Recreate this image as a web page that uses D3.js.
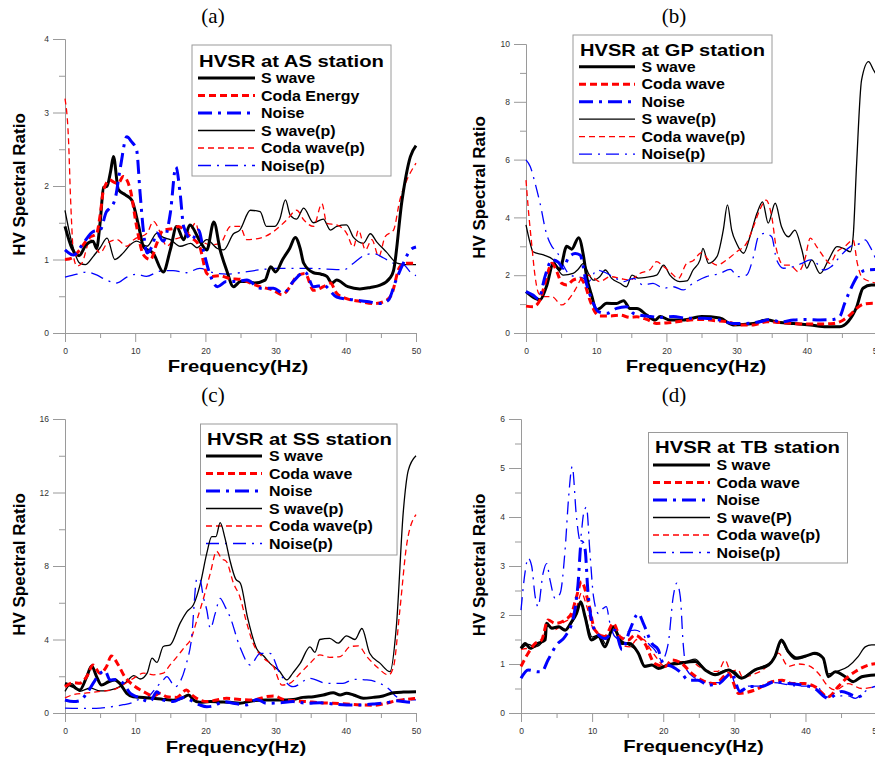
<!DOCTYPE html>
<html><head><meta charset="utf-8">
<script src="https://cdn.jsdelivr.net/npm/d3@7/dist/d3.min.js"></script>
<style>body{margin:0;background:#fff}svg{display:block}</style>
</head><body><svg id="chart" width="875" height="758"></svg>
<script>
// ---------------- DATA ----------------
const FREQ_MAJOR = [0, 10, 20, 30, 40, 50];
const FREQ_MINOR = [5, 15, 25, 35, 45];

const LEG_AS = ["S wave", "Coda Energy", "Noise", "S wave(p)", "Coda wave(p)", "Noise(p)"];
const LEG_GP = ["S wave", "Coda wave", "Noise", "S wave(p)", "Coda wave(p)", "Noise(p)"];
const LEG_SS = ["S wave", "Coda wave", "Noise", "S wave(p)", "Coda wave(p)", "Noise(p)"];
const LEG_TB = ["S wave", "Coda wave", "Noise", "S wave(P)", "Coda wave(p)", "Noise(p)"];

// (a) AS station  [frequency Hz, HV ratio]
const AS_S = [[0,1.45],[1,1.15],[2,1.05],[3,1.2],[4,1.25],[4.5,1.15],[5,1.5],[5.5,1.98],[6,2.0],[6.5,2.2],[6.9,2.4],[7.6,1.95],[8.6,1.88],[9.5,1.81],[10.5,1.45],[11.2,1.17],[12.6,1.08],[14,0.83],[15,1.13],[15.9,1.45],[16.9,1.27],[17.8,1.47],[19.2,1.25],[20.2,1.13],[21.2,1.51],[22.1,1.13],[23,0.86],[24,0.63],[25,0.7],[26,0.7],[27,0.68],[28.5,0.72],[29.3,0.9],[30,0.83],[31,1.0],[32,1.15],[32.8,1.3],[33.5,1.15],[34,0.95],[35.4,0.82],[36.5,0.8],[37.3,0.77],[38,0.68],[38.7,0.72],[40.3,0.63],[42,0.6],[43.5,0.62],[44.9,0.65],[46.3,0.75],[46.8,0.85],[48,1.8],[49.2,2.4],[50,2.55]];
const AS_C = [[0,1.0],[1,1.02],[2,1.12],[3,1.25],[3.5,1.3],[4.5,1.35],[5,1.6],[5.5,1.95],[6.4,2.08],[7,2.05],[7.6,2.04],[8.3,2.13],[9.3,1.95],[10.2,1.45],[11,1.1],[11.6,1.02],[12.2,1.0],[13,1.2],[14,1.4],[15.4,1.42],[16.2,1.45],[17.3,1.36],[18,1.3],[19.2,1.17],[20.2,0.81],[21,0.77],[22,0.78],[23.5,0.74],[25,0.73],[26.4,0.68],[27.8,0.63],[29.7,0.58],[30.9,0.52],[32,0.62],[33,0.77],[34.2,0.81],[35.4,0.58],[36.8,0.63],[37.8,0.68],[38.7,0.54],[40,0.47],[42,0.43],[44,0.4],[45.5,0.43],[46.5,0.52],[47.7,0.9],[48.7,0.95],[50,0.95]];
const AS_N = [[0,1.13],[1.2,1.06],[2.6,1.22],[4,1.38],[5,1.4],[5.9,1.65],[6.4,1.7],[7.1,1.81],[7.9,2.26],[8.8,2.67],[9.5,2.6],[10.2,2.49],[10.7,1.9],[11.2,1.36],[11.7,1.09],[12.4,1.18],[13.1,1.36],[14,1.25],[15,1.63],[15.8,2.26],[16.4,1.9],[16.9,1.45],[18.1,1.27],[19,1.4],[19.8,1.09],[20.5,0.84],[21.7,0.63],[23,0.7],[24.5,0.7],[25.9,0.72],[27.8,0.61],[29.7,0.61],[31.1,0.54],[32.5,0.7],[34.2,0.83],[35.4,0.63],[36.8,0.65],[38.7,0.49],[41.1,0.45],[43,0.43],[44.9,0.4],[46.1,0.45],[47,0.68],[48.2,0.95],[49.2,1.13],[50,1.17]];
const AS_Sp = [[0,1.67],[1,1.22],[2.1,0.95],[2.9,0.93],[4,1.04],[5,1.16],[6,1.29],[7.1,1.0],[8.3,1.09],[9.3,1.2],[10.2,1.25],[11.7,1.18],[13.1,1.36],[14,1.3],[15,1.27],[16.4,1.18],[17.9,1.22],[18.8,1.16],[20.2,1.27],[21.7,1.15],[22.6,1.13],[24,1.35],[24.9,1.4],[26.4,1.67],[27.8,1.65],[28.7,1.45],[29.9,1.45],[30.6,1.55],[31.4,1.81],[32.1,1.6],[33,1.55],[34,1.7],[35.4,1.5],[36.8,1.55],[37.8,1.4],[38.7,1.45],[40.1,1.47],[41.1,1.3],[42.5,1.22],[43.5,1.35],[44.4,1.24],[45.8,1.1],[47.3,0.95],[48.5,0.93],[50,0.93]];
const AS_Cp = [[0,3.19],[0.5,2.63],[0.8,1.81],[1.3,1.0],[1.7,0.91],[2.4,0.95],[3.6,1.27],[5,1.09],[6,1.22],[7.4,1.27],[8.8,1.18],[9.8,1.27],[11.7,1.36],[12.6,1.52],[13.6,1.36],[14.5,1.18],[15.5,1.27],[16.7,1.31],[17.9,1.4],[18.6,1.5],[19.3,1.27],[20.7,1.2],[22.1,1.22],[23.6,1.45],[24.9,1.45],[25.9,1.27],[27.8,1.29],[29.7,1.38],[31.6,1.54],[33,1.67],[34,1.54],[35.4,1.45],[36.6,1.76],[37.3,1.49],[38.7,1.47],[40.1,1.36],[41.1,1.17],[41.8,1.4],[42.8,1.13],[43.7,1.27],[44.7,1.04],[45.6,1.31],[46.8,1.4],[47.7,1.81],[48.7,2.08],[50,2.31]];
const AS_Np = [[0,0.76],[1.7,0.8],[3.1,0.83],[4.5,0.79],[5.5,0.74],[7.4,0.68],[8.8,0.76],[10.2,0.8],[11.6,0.77],[13.5,0.84],[15.4,0.85],[17.3,0.82],[19.2,0.88],[21.1,0.82],[23,0.8],[24.9,0.82],[27.8,0.86],[30.2,0.88],[32.5,0.88],[34.9,0.88],[37.3,0.87],[39.7,0.86],[41.1,0.95],[42.5,1.05],[43.9,1.08],[45.4,1.02],[46.8,0.95],[48.2,0.93],[49.4,0.81],[50,0.78]];

// (b) GP station
const GP_S = [[0,1.43],[1.3,1.2],[2,1.15],[2.9,1.6],[3.9,2.4],[4.8,2.2],[5.8,3.0],[6.5,2.9],[7.5,3.3],[8.2,2.65],[8.6,2.0],[9.4,1.26],[10,0.8],[10.5,0.85],[11.5,1.03],[12.9,1.02],[13.9,1.12],[14.8,0.85],[15.8,0.85],[17.2,0.62],[18.4,0.45],[19.1,0.57],[20.5,0.45],[22.4,0.45],[25,0.57],[27.6,0.52],[29.5,0.28],[32.4,0.33],[34.3,0.45],[36.2,0.36],[38.1,0.33],[40.5,0.28],[42.8,0.22],[44.7,0.22],[45.9,0.4],[47.1,0.9],[48,1.55],[49.2,1.66],[50,1.66]];
const GP_C = [[0,0.93],[1,0.91],[2,1.14],[2.7,1.72],[3.7,2.41],[4.4,2.12],[5.1,1.72],[5.8,1.66],[6.7,1.83],[7.7,1.89],[8.4,1.66],[9.1,1.14],[9.8,0.74],[10.5,0.59],[12,0.59],[13.4,0.62],[14.8,0.54],[15.8,0.56],[17.2,0.47],[18.6,0.33],[20,0.35],[21.5,0.39],[23.4,0.45],[25.3,0.47],[26.7,0.43],[28.6,0.39],[30.5,0.28],[32.4,0.28],[34.3,0.39],[36.2,0.36],[38.1,0.33],[40,0.31],[41.9,0.31],[43.8,0.33],[45.2,0.45],[46.4,0.68],[47.1,0.85],[48.1,1.0],[49.5,1.03],[50,1.03]];
const GP_N = [[0,1.43],[1,1.31],[1.8,1.18],[2.7,1.95],[3.7,2.53],[4.6,2.45],[5.3,2.24],[6,2.58],[7,2.75],[7.7,2.7],[8.6,1.72],[9.4,1.14],[10.3,0.74],[11.5,0.68],[12.9,0.85],[14.3,0.91],[15.3,0.68],[16.2,0.62],[17.7,0.57],[19.1,0.54],[21,0.57],[22.9,0.51],[25.3,0.51],[27.6,0.45],[29.5,0.33],[31.4,0.33],[33.3,0.39],[34.8,0.47],[36.2,0.38],[38.1,0.45],[40,0.47],[41.9,0.45],[43.8,0.47],[44.7,0.57],[45.4,1.03],[46.4,1.6],[47.3,2.0],[48.5,2.18],[50,2.2]];
const GP_Sp = [[0,3.74],[0.6,3.1],[1,2.81],[2.5,2.7],[3.9,2.53],[4.6,2.18],[5.3,2.0],[6.7,2.06],[7.4,2.2],[8.2,2.41],[8.9,2.06],[9.6,1.83],[10.5,1.95],[11.3,2.18],[12.2,1.89],[13.4,1.72],[14.3,1.6],[15.1,2.0],[16,1.9],[17.2,1.93],[18.6,2.0],[19.6,2.35],[20.5,2.0],[21.9,1.78],[22.9,1.8],[23.8,2.18],[24.8,2.53],[25.2,2.93],[26,2.41],[27.2,2.64],[28.1,3.56],[28.7,4.43],[29.3,3.56],[30,3.1],[31,2.76],[31.9,3.33],[32.9,4.14],[33.7,4.54],[34.5,3.8],[35.5,4.49],[36.4,3.68],[37.4,3.33],[38.3,3.56],[39.3,2.87],[40,2.24],[40.7,2.53],[41.9,2.06],[43.1,2.53],[44.3,2.99],[45.2,2.93],[46.2,2.81],[46.6,3.33],[47.1,5.87],[47.8,8.75],[48.8,9.39],[49.5,9.1],[50,8.9]];
const GP_Cp = [[0,5.29],[0.3,4.37],[0.8,3.1],[1.3,1.95],[1.8,1.37],[2.5,1.26],[3.7,1.26],[5.1,0.97],[6,1.14],[7,1.49],[7.9,1.89],[8.6,2.0],[9.4,1.95],[10.5,1.78],[12,1.95],[13.4,1.89],[14.8,1.83],[16.2,2.06],[17.7,2.2],[18.6,2.47],[19.6,2.3],[20.5,2.12],[21.7,1.89],[22.9,2.41],[23.8,2.5],[25,2.78],[26,2.53],[27.2,2.35],[28.6,2.53],[30,2.81],[31.4,3.1],[32.4,3.68],[33.3,4.26],[34.2,4.6],[35,4.03],[35.7,2.87],[36.7,2.35],[37.6,2.35],[38.8,2.12],[39.7,2.53],[40.5,3.28],[41.4,2.99],[42.4,2.64],[43.3,2.41],[44.3,2.81],[45.4,2.99],[46.6,3.22],[47.2,2.41],[47.8,1.95],[49,1.78],[50,1.72]];
const GP_Np = [[0,5.99],[0.6,5.76],[1.3,5.18],[2,4.49],[2.9,3.45],[3.7,2.99],[4.4,2.81],[5.3,2.35],[6.3,2.0],[7.2,1.95],[8.2,1.89],[8.9,1.78],[10.1,2.18],[11,2.12],[12.4,1.95],[13.9,1.78],[15.3,1.89],[16.7,1.66],[18.1,1.72],[19.6,1.55],[21,1.6],[22.4,1.49],[23.8,1.72],[25.7,1.95],[27.6,2.06],[29.1,2.2],[30.2,1.95],[31.4,2.0],[32.4,2.64],[33.1,3.33],[34,3.45],[35,3.33],[35.7,2.53],[36.7,2.24],[38.1,2.3],[39.3,2.41],[40.5,2.53],[41.4,2.41],[42.4,2.18],[43.5,2.3],[44.7,2.64],[46.2,2.99],[47.6,3.1],[48.3,3.22],[49,2.99],[50,2.45]];

// (c) SS station
const SS_S = [[0,1.61],[1.2,1.43],[2.1,1.25],[3.1,1.98],[3.8,2.56],[4.5,1.98],[5.2,1.52],[6.2,1.7],[7.1,1.8],[7.8,1.61],[8.8,1.07],[9.7,0.89],[11.2,0.85],[12.6,0.8],[14,0.74],[15.4,0.7],[16.9,0.85],[17.6,0.98],[18.3,0.71],[19.2,0.58],[20.7,0.62],[22.1,0.6],[23.5,0.58],[24.9,0.53],[26.8,0.67],[28.7,0.71],[30.6,0.71],[32.5,0.74],[33.9,0.85],[35.4,0.89],[36.8,0.98],[38.2,1.1],[39.2,0.98],[40.1,1.07],[41.1,0.98],[42.5,0.8],[43.9,0.85],[45.3,0.93],[46.8,1.1],[48.2,1.14],[50,1.16]];
const SS_C = [[0,1.43],[1.2,1.65],[2.1,1.62],[3.1,1.98],[4,2.61],[5,2.16],[5.9,2.52],[6.6,3.1],[7.6,2.61],[8.5,1.98],[9.7,1.52],[11.2,1.16],[12.6,0.93],[13.5,1.07],[14.5,0.89],[15.9,0.85],[17.3,1.25],[18,1.0],[19.2,0.71],[20.2,0.62],[21.6,0.71],[23,0.8],[24.9,0.74],[26.8,0.71],[28.7,0.89],[29.7,0.93],[31.1,0.74],[32.5,0.67],[34.4,0.62],[36.3,0.56],[38.2,0.53],[40.1,0.49],[42,0.44],[43.9,0.42],[45.8,0.53],[47.2,0.67],[48.7,0.74],[50,0.8]];
const SS_N = [[0,0.71],[1.2,0.62],[2.1,0.67],[3.1,1.07],[4,1.61],[5,2.16],[5.7,2.3],[6.4,1.8],[7.4,1.83],[8.3,1.61],[9.3,1.07],[10.2,0.89],[11.2,0.71],[12.1,0.62],[13.1,1.16],[14,0.71],[15.4,0.62],[16.9,0.85],[17.8,0.71],[19.2,0.44],[20.2,0.34],[21.1,0.38],[22.6,0.62],[24,0.53],[25.9,0.44],[27.3,0.74],[28.7,0.53],[30.6,0.56],[32.5,0.62],[34.4,0.53],[36.3,0.56],[38.2,0.49],[40.1,0.44],[42,0.44],[43.9,0.49],[45.8,0.56],[47.2,0.67],[48.7,0.6],[50,0.56]];
const SS_Sp = [[0,1.18],[0.95,1.6],[2.1,1.18],[3.6,1.36],[5,1.2],[6.4,1.25],[7.9,1.45],[8.8,1.72],[9.8,2.03],[10.7,1.85],[11.7,2.17],[12.4,2.99],[13.1,2.75],[14,3.62],[15,3.71],[16.4,4.89],[17.4,5.53],[18.3,5.89],[19.3,7.07],[20.2,8.7],[20.9,9.6],[21.5,9.6],[22.1,10.36],[22.8,9.5],[23.5,8.3],[24.3,7.3],[25,7.05],[26,5.2],[27.3,3.5],[28.3,3.1],[29.2,2.7],[30.5,2.3],[31.6,1.8],[32.5,2.2],[33.5,2.7],[34.9,3.6],[35.6,3.3],[36.3,4.0],[37.7,4.06],[38.9,3.8],[40.1,4.2],[41.3,4.0],[42.3,4.6],[43.4,3.25],[44.9,2.7],[46.3,2.25],[47.2,4.7],[48.2,11.0],[48.9,13.2],[50,14.0]];
const SS_Cp = [[0,0.82],[1.2,1.0],[3.1,1.09],[5,1.18],[6.9,1.27],[8.3,1.54],[9.8,1.9],[11.2,2.17],[12.6,2.08],[14,2.17],[15,2.63],[16,3.08],[17.1,3.62],[17.9,3.99],[18.8,5.07],[19.8,6.34],[20.7,7.61],[21.6,8.8],[22.3,8.4],[23,8.24],[24,7.06],[24.9,6.33],[25.9,4.88],[26.8,3.79],[28.3,2.98],[29.7,2.52],[30.9,1.52],[32,1.61],[33.5,2.16],[34.9,2.7],[36.3,3.16],[37.7,3.03],[39.2,3.07],[40.6,3.61],[41.8,3.65],[43,3.07],[44.4,2.52],[46.1,2.07],[46.8,2.52],[47.7,5.6],[48.7,9.23],[50,10.8]];
const SS_Np = [[0,0.27],[2.6,0.25],[5,0.27],[6.4,0.33],[8.3,0.45],[9.5,0.55],[10.2,0.7],[11.6,0.8],[13.1,1.43],[14,1.8],[14.5,1.98],[15.7,1.43],[16.4,1.7],[17.3,2.7],[18,3.97],[18.8,7.33],[19.2,7.3],[19.7,6.33],[20.2,5.6],[20.7,4.6],[21.4,5.42],[22.1,6.24],[22.8,5.79],[23.5,5.24],[24.9,3.61],[26.4,2.61],[27.8,3.25],[29.2,3.25],[30.6,2.16],[32.5,1.43],[34.9,1.89],[37.3,1.61],[39.6,1.61],[41.1,1.83],[43,1.8],[44.9,1.61],[46.3,1.25],[47.2,0.89],[48.7,0.74],[50,0.71]];

// (d) TB station
const TB_S = [[0,1.32],[0.6,1.42],[1.3,1.32],[2.4,1.42],[3.4,1.49],[3.6,1.83],[4.3,1.73],[5.3,1.76],[6.2,1.69],[7.1,1.86],[7.8,2.03],[8.4,2.27],[9,1.97],[9.9,1.49],[10.9,1.56],[11.8,1.35],[13,1.76],[13.7,1.56],[14.2,1.42],[15.3,1.42],[16.5,1.22],[17.4,0.95],[18.4,0.98],[19.3,0.91],[20.7,0.98],[22.1,1.01],[24.5,1.05],[25.9,0.88],[27.3,0.78],[29.2,0.88],[31,0.71],[32.9,0.88],[34.8,0.98],[35.7,1.15],[36.6,1.49],[37.6,1.25],[38.8,1.12],[40.4,1.18],[41.3,1.22],[42.5,1.12],[43.2,0.74],[44.2,0.84],[45.6,0.74],[46.7,0.64],[47.9,0.74],[50,0.78]];
const TB_C = [[0,0.95],[1,1.22],[2,1.42],[2.9,1.49],[3.8,1.9],[4.8,1.83],[6.2,1.9],[7.1,2.03],[7.8,2.37],[8.5,2.68],[9.5,2.24],[10.4,1.69],[11.8,1.56],[13,1.83],[13.9,1.56],[15.1,1.49],[16,1.59],[17.4,1.42],[18.8,1.01],[20.3,0.95],[21.2,1.08],[22.6,1.01],[24,0.81],[25.4,0.67],[27.3,0.6],[29.2,0.81],[30.6,0.4],[32.9,0.47],[35.3,0.64],[36.7,0.67],[38.1,0.6],[39.9,0.6],[41.3,0.54],[43.2,0.33],[44.6,0.54],[46,0.74],[47.4,0.88],[48.9,0.98],[50,1.01]];
const TB_N = [[0,0.71],[1,0.88],[2.4,0.84],[2.9,0.84],[3.8,1.08],[5,1.39],[6.2,1.56],[7.4,1.97],[8,2.6],[8.5,3.5],[9,3.35],[9.4,2.5],[9.9,1.9],[10.4,1.69],[11.8,1.52],[13.2,1.69],[14.2,1.29],[15.3,1.69],[16.5,2.03],[17.2,1.83],[18.4,1.42],[19.3,1.29],[20,1.01],[21.2,0.95],[22.6,0.81],[23.5,0.67],[24.9,0.67],[26.3,0.57],[27.8,0.6],[29.6,0.81],[30.8,0.44],[32,0.54],[33.8,0.54],[35.7,0.64],[37.6,0.6],[39.5,0.57],[41.3,0.5],[43.2,0.3],[45.1,0.44],[46.5,0.37],[47.4,0.33],[48.4,0.4]];
const TB_Sp = [[0,1.3],[1,1.4],[2,1.35],[3,1.45],[3.7,1.78],[4.5,1.72],[5.5,1.75],[6.3,1.7],[7.2,1.85],[8.4,2.25],[9,2.0],[10,1.55],[11,1.6],[12,1.4],[13,1.75],[14,1.5],[15,1.4],[16.4,1.25],[17.4,0.97],[18.5,0.97],[20,0.95],[21,1.0],[22,1.05],[23,1.05],[24.5,1.1],[25.9,0.88],[27.3,0.8],[29,0.88],[30,0.85],[31,0.72],[32.5,0.85],[34,0.95],[35.2,1.05],[36.1,1.3],[36.6,1.45],[37.5,1.25],[38.5,1.1],[40,1.15],[41,1.2],[42.3,1.15],[43.2,0.8],[44.2,0.84],[46,0.95],[47.4,1.15],[48.4,1.35],[49.3,1.39],[50,1.39]];
const TB_Cp = [[0,1.3],[1,1.32],[2,1.35],[3,1.5],[3.8,1.8],[4.8,1.7],[6,1.85],[7,1.95],[7.9,2.2],[8.5,2.45],[9.2,2.2],[10.2,1.7],[11.2,1.6],[12.2,1.5],[13,1.75],[14,1.4],[15.3,1.35],[16.3,1.5],[17.2,1.5],[18.2,1.3],[19.2,1.1],[20.2,0.95],[21.2,0.95],[22.6,1.05],[24,1.05],[25,0.95],[26.5,0.85],[27.7,0.85],[28.7,1.08],[29.5,0.85],[30.5,0.88],[31.2,0.72],[32.5,0.78],[34,0.88],[35.2,1.05],[36.2,1.22],[37.6,0.95],[39,1.0],[40.4,0.97],[41.8,0.81],[43.2,0.54],[44.2,0.47],[46,0.6],[47.9,0.5],[50,0.54]];
const TB_Np = [[0,2.1],[0.6,2.9],[1,3.16],[1.5,3.0],[2,2.37],[2.4,2.17],[3.1,2.85],[3.6,3.05],[4.1,2.7],[4.8,2.34],[5.5,2.44],[6.2,3.33],[6.7,4.41],[7.2,5.03],[7.8,4.0],[8.3,3.53],[8.8,4.07],[9.2,4.2],[9.7,3.26],[10.2,2.37],[10.9,2.03],[11.6,2.14],[12,2.17],[12.5,1.83],[13.2,1.56],[14.2,1.49],[15.1,1.66],[16,1.69],[17,1.63],[17.9,1.42],[18.8,1.29],[19.8,1.08],[20.7,1.42],[21.4,2.37],[21.9,2.65],[22.4,2.37],[22.8,1.42],[23.3,0.88],[24.5,0.71],[26,0.62],[28,0.62],[29.5,0.78],[30.5,0.45],[32,0.55],[34,0.55],[35.5,0.62],[37.5,0.58],[39,0.55],[40.5,0.55],[41.5,0.55],[43,0.32],[44,0.4],[45,0.35],[46,0.35],[47,0.3],[48,0.4],[49,0.5],[50,0.55]];

// ---------------- DRAWING ----------------
const svg = d3.select("#chart");
const SANS = '"Liberation Sans", Arial, sans-serif';
const SERIF = '"Liberation Serif", "Times New Roman", serif';

const STYLES = [
  {color: "#000000", w: 3,   dash: null},
  {color: "#ff0000", w: 3,   dash: "7,4"},
  {color: "#0000ff", w: 3,   dash: "14,6,3,6"},
  {color: "#000000", w: 1.3, dash: null},
  {color: "#ff0000", w: 1.3, dash: "6,4"},
  {color: "#0000ff", w: 1.3, dash: "13,6,2,6"}
];

const panels = [
  {tag: "(a)", tagX: 213, tagY: 23, x0: 65, x1: 416, yTop: 39, yBot: 333, yMax: 4,
   yMajor: [0,1,2,3,4], yMinor: [0.5,1.5,2.5,3.5],
   series: [AS_S, AS_C, AS_N, AS_Sp, AS_Cp, AS_Np], labels: LEG_AS, title: "HVSR at AS station",
   box: [192, 45, 391, 176], titleX: 199, titleY: 66.7, lineX: [198, 255], textX: 261, entryY0: 78,
   yTitle: [25, 184.5], xTitle: [238, 372]},
  {tag: "(b)", tagX: 674, tagY: 23, x0: 526, x1: 877, yTop: 44, yBot: 333, yMax: 10,
   yMajor: [0,2,4,6,8,10], yMinor: [1,3,5,7,9],
   series: [GP_S, GP_C, GP_N, GP_Sp, GP_Cp, GP_Np], labels: LEG_GP, title: "HVSR at GP station",
   box: [573, 35, 772, 163], titleX: 580, titleY: 55.7, lineX: [579, 635], textX: 641.5, entryY0: 66.7,
   yTitle: [485, 187.5], xTitle: [696, 372]},
  {tag: "(c)", tagX: 213, tagY: 402, x0: 65, x1: 416, yTop: 419, yBot: 713, yMax: 16,
   yMajor: [0,4,8,12,16], yMinor: [2,6,10,14],
   series: [SS_S, SS_C, SS_N, SS_Sp, SS_Cp, SS_Np], labels: LEG_SS, title: "HVSR at SS station",
   box: [200.5, 424, 397, 555], titleX: 207, titleY: 445, lineX: [206, 262], textX: 269, entryY0: 456,
   yTitle: [25, 564.5], xTitle: [236, 752.5]},
  {tag: "(d)", tagX: 674, tagY: 402, x0: 521, x1: 876.6, yTop: 419, yBot: 713, yMax: 6,
   yMajor: [0,1,2,3,4,5,6], yMinor: [0.5,1.5,2.5,3.5,4.5,5.5],
   series: [TB_S, TB_C, TB_N, TB_Sp, TB_Cp, TB_Np], labels: LEG_TB, title: "HVSR at TB station",
   box: [648.5, 432.5, 847.5, 563], titleX: 655, titleY: 453, lineX: [653, 710], textX: 716.5, entryY0: 465,
   yTitle: [485, 565], xTitle: [693.5, 752]}
];

function stretch(sel, factor) {
  sel.each(function() {
    const len = this.getComputedTextLength();
    d3.select(this).attr("textLength", len * factor).attr("lengthAdjust", "spacingAndGlyphs");
  });
}

function styleAxis(g) {
  g.select(".domain").attr("stroke", "#9a9a9a").attr("stroke-width", 1);
  g.selectAll(".tick line").attr("stroke", "#9a9a9a").attr("stroke-width", 1);
  g.selectAll(".tick text").attr("fill", "#333").attr("font-size", 8.5).attr("font-family", SANS);
}

panels.forEach(p => {
  const x = d3.scaleLinear().domain([0, 50]).range([p.x0, p.x1]);
  const y = d3.scaleLinear().domain([0, p.yMax]).range([p.yBot, p.yTop]);
  const g = svg.append("g");

  // axes
  const gx = g.append("g").attr("transform", `translate(0,${p.yBot})`)
    .call(d3.axisBottom(x).tickValues(FREQ_MAJOR).tickSize(9).tickSizeOuter(0).tickPadding(6).tickFormat(d3.format("d")));
  styleAxis(gx);
  const gxm = g.append("g").attr("transform", `translate(0,${p.yBot})`)
    .call(d3.axisBottom(x).tickValues(FREQ_MINOR).tickSize(5).tickSizeOuter(0).tickFormat(""));
  styleAxis(gxm);
  const gy = g.append("g").attr("transform", `translate(${p.x0},0)`)
    .call(d3.axisLeft(y).tickValues(p.yMajor).tickSize(12).tickSizeOuter(0).tickPadding(4).tickFormat(d3.format("d")));
  styleAxis(gy);
  const gym = g.append("g").attr("transform", `translate(${p.x0},0)`)
    .call(d3.axisLeft(y).tickValues(p.yMinor).tickSize(6).tickSizeOuter(0).tickFormat(""));
  styleAxis(gym);

  // panel tag
  g.append("text").attr("x", p.tagX).attr("y", p.tagY).attr("text-anchor", "middle")
    .attr("font-family", SERIF).attr("font-size", 21).attr("fill", "#000").text(p.tag);

  // axis titles
  g.append("text").attr("x", p.xTitle[0]).attr("y", p.xTitle[1]).attr("text-anchor", "middle")
    .attr("font-family", SANS).attr("font-weight", "bold").attr("font-size", 17).attr("fill", "#000")
    .text("Frequency(Hz)").call(stretch, 1.19);
  g.append("text").attr("transform", `translate(${p.yTitle[0]},${p.yTitle[1]}) rotate(-90)`)
    .attr("text-anchor", "middle").attr("font-family", SANS).attr("font-weight", "bold")
    .attr("font-size", 17).attr("fill", "#000").text("HV Spectral Ratio");

  // legend
  const b = p.box;
  g.append("rect").attr("x", b[0]).attr("y", b[1]).attr("width", b[2] - b[0]).attr("height", b[3] - b[1])
    .attr("fill", "#fff").attr("stroke", "#9a9a9a").attr("stroke-width", 1);
  g.append("text").attr("x", p.titleX).attr("y", p.titleY).attr("font-family", SANS)
    .attr("font-weight", "bold").attr("font-size", 17).attr("fill", "#000")
    .attr("textLength", 185).attr("lengthAdjust", "spacingAndGlyphs").text(p.title);
  p.labels.forEach((lab, i) => {
    const ly = p.entryY0 + i * 17.5;
    const st = STYLES[i];
    g.append("line").attr("x1", p.lineX[0]).attr("x2", p.lineX[1]).attr("y1", ly).attr("y2", ly)
      .attr("stroke", st.color).attr("stroke-width", st.w).attr("stroke-dasharray", st.dash);
    g.append("text").attr("x", p.textX).attr("y", ly + 5).attr("font-family", SANS)
      .attr("font-weight", "bold").attr("font-size", 14).attr("fill", "#000").text(lab).call(stretch, 1.14);
  });

  // series lines
  const line = d3.line().x(d => x(d[0])).y(d => y(d[1])).curve(d3.curveMonotoneX);
  [3, 4, 5, 0, 1, 2].forEach(i => {
    const st = STYLES[i];
    g.append("path").datum(p.series[i]).attr("d", line).attr("fill", "none")
      .attr("stroke", st.color).attr("stroke-width", st.w).attr("stroke-dasharray", st.dash)
      .attr("stroke-linejoin", "round");
  });
});
</script>
</body></html>
